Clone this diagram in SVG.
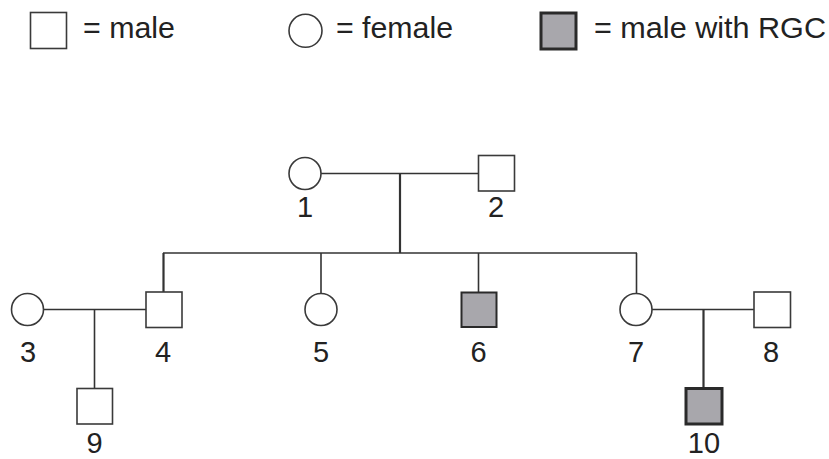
<svg xmlns="http://www.w3.org/2000/svg" width="829" height="459" viewBox="0 0 829 459">
<style>
.m{fill:#fff;stroke:#3a3a3a;stroke-width:1.6}
.f{fill:#fff;stroke:#3a3a3a;stroke-width:1.6}
.a{fill:#a8a7ac;stroke:#2a2a2a;stroke-width:3}
.ln{stroke:#333;stroke-width:1.6;fill:none}
.ln2{stroke:#333;stroke-width:2.2;fill:none}
text{font-family:"Liberation Sans",Arial,sans-serif;font-size:29px;fill:#222}
.lg{font-size:30px}
.lab{text-anchor:middle}
</style>
<rect width="829" height="459" fill="#fff"/>
<g id="legend">
<rect class="m" x="30.5" y="12.5" width="36" height="36"/>
<text class="lg" x="83" y="38" textLength="92" lengthAdjust="spacingAndGlyphs">= male</text>
<circle class="f" cx="305.5" cy="30.8" r="16.5"/>
<text class="lg" x="336" y="38" textLength="117" lengthAdjust="spacingAndGlyphs">= female</text>
<rect class="a" x="541" y="13" width="35" height="36"/>
<text class="lg" x="594" y="38" textLength="232" lengthAdjust="spacingAndGlyphs">= male with RGC</text>
</g>
<g id="connectors">
<path class="ln" d="M321 173.5H478"/>
<path class="ln2" d="M400 173.5V253"/>
<path class="ln" d="M163 253H637"/>
<path class="ln2" d="M163.5 253V292"/>
<path class="ln" d="M321 253V293"/>
<path class="ln" d="M478.5 253V292"/>
<path class="ln" d="M636.5 253V293"/>
<path class="ln" d="M43 309.5H146"/>
<path class="ln" d="M94.5 309.5V388"/>
<path class="ln" d="M652 309.5H754"/>
<path class="ln2" d="M703.5 309.5V388"/>
</g>
<g id="n1"><circle class="f" cx="305" cy="173.5" r="16"/><text class="lab" x="305" y="217">1</text></g>
<g id="n2"><rect class="m" x="478.5" y="155.5" width="36" height="35.5"/><text class="lab" x="496" y="217">2</text></g>
<g id="n3"><circle class="f" cx="27.5" cy="309.5" r="16"/><text class="lab" x="28" y="362">3</text></g>
<g id="n4"><rect class="m" x="146" y="292" width="36" height="35.5"/><text class="lab" x="163" y="362">4</text></g>
<g id="n5"><circle class="f" cx="321" cy="309.5" r="16"/><text class="lab" x="321" y="362">5</text></g>
<g id="n6"><rect class="a" x="461.5" y="292.5" width="35" height="34.5" style="stroke-width:2"/><text class="lab" x="478.5" y="362">6</text></g>
<g id="n7"><circle class="f" cx="636" cy="309.5" r="16"/><text class="lab" x="636" y="362">7</text></g>
<g id="n8"><rect class="m" x="754" y="292" width="36.5" height="35.5"/><text class="lab" x="771" y="362">8</text></g>
<g id="n9"><rect class="m" x="77" y="388.5" width="35.5" height="35.5"/><text class="lab" x="94.5" y="452.5">9</text></g>
<g id="n10"><rect class="a" x="686" y="388.5" width="36" height="35.5"/><text class="lab" x="704" y="452.5">10</text></g>
</svg>
